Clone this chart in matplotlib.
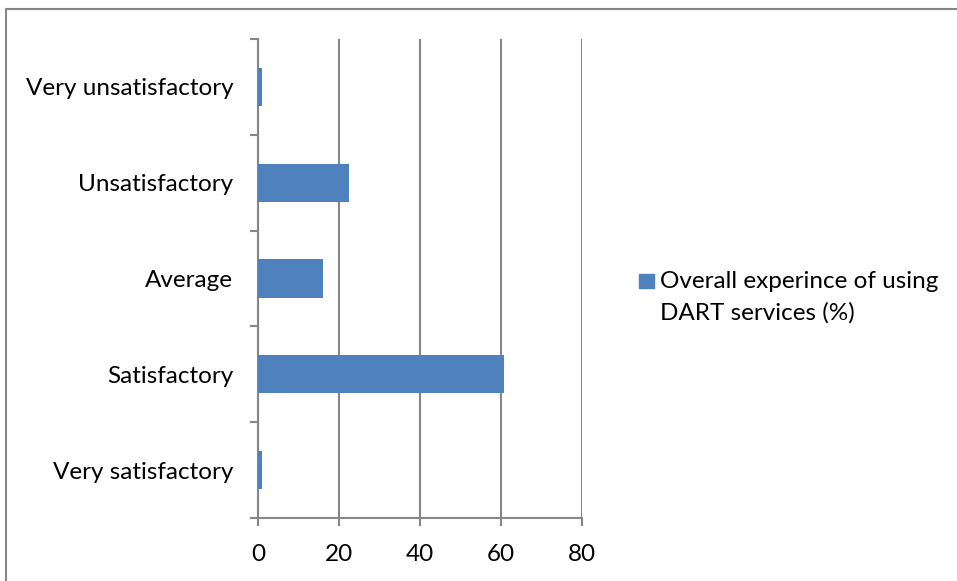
import matplotlib
matplotlib.use("Agg")
import matplotlib.pyplot as plt
from matplotlib.patches import Rectangle

plt.rcParams['font.family'] = ['Lato', 'DejaVu Sans']

# survey responses, bottom to top
categories = ["Very satisfactory", "Satisfactory", "Average",
              "Unsatisfactory", "Very unsatisfactory"]
percent = [0.8, 60.7, 16.1, 22.4, 0.8]
series_lines = ["Overall experince of using", "DART services (%)"]
x_ticks = [0, 20, 40, 60, 80]

bar_color = "#4F81BD"
grid_color = "#868686"
fs = 17.5

fig = plt.figure(figsize=(9.57, 5.81), dpi=100)
ax = fig.add_axes([0.2699, 0.1084, 0.3383, 0.8244])

ypos = list(range(len(categories)))
ax.barh(ypos, percent, height=0.4, color=bar_color, zorder=3)

ax.set_xlim(0, 80)
ax.set_ylim(-0.5, len(categories) - 0.5)
ax.set_xticks(x_ticks)
ax.xaxis.grid(True, color=grid_color, linewidth=1.5, zorder=0)

# category ticks sit between bars, labels centred on bars
ax.set_yticks([y - 0.5 for y in range(len(categories) + 1)])
ax.set_yticklabels([])
ax.set_yticks(ypos, minor=True)
ax.set_yticklabels(categories, minor=True)
ax.tick_params(axis='y', which='minor', length=0, pad=18, labelsize=fs)
ax.tick_params(axis='y', which='major', length=6, width=1.5, color=grid_color)
ax.tick_params(axis='x', length=6, width=1.5, color=grid_color, pad=13, labelsize=fs)

for side in ['top', 'right']:
    ax.spines[side].set_visible(False)
for side in ['left', 'bottom']:
    ax.spines[side].set_color(grid_color)
    ax.spines[side].set_linewidth(1.5)

# legend: square key next to the first line of the series name
W, H = 957, 581
fig.patches.append(Rectangle((639 / W, 1 - 288 / H), 15 / W, 14 / H,
                             transform=fig.transFigure, color=bar_color))
for i, line in enumerate(series_lines):
    fig.text(660 / W, 1 - (288 + 32 * i) / H, line, fontsize=fs,
             va='baseline', ha='left')

# chart frame
fig.patches.append(Rectangle((6 / W, -0.1), 1.2, 1 - 9 / H + 0.1,
                             transform=fig.transFigure, fill=False,
                             edgecolor=grid_color, linewidth=1.5))

fig.savefig("out.png", dpi=100)
